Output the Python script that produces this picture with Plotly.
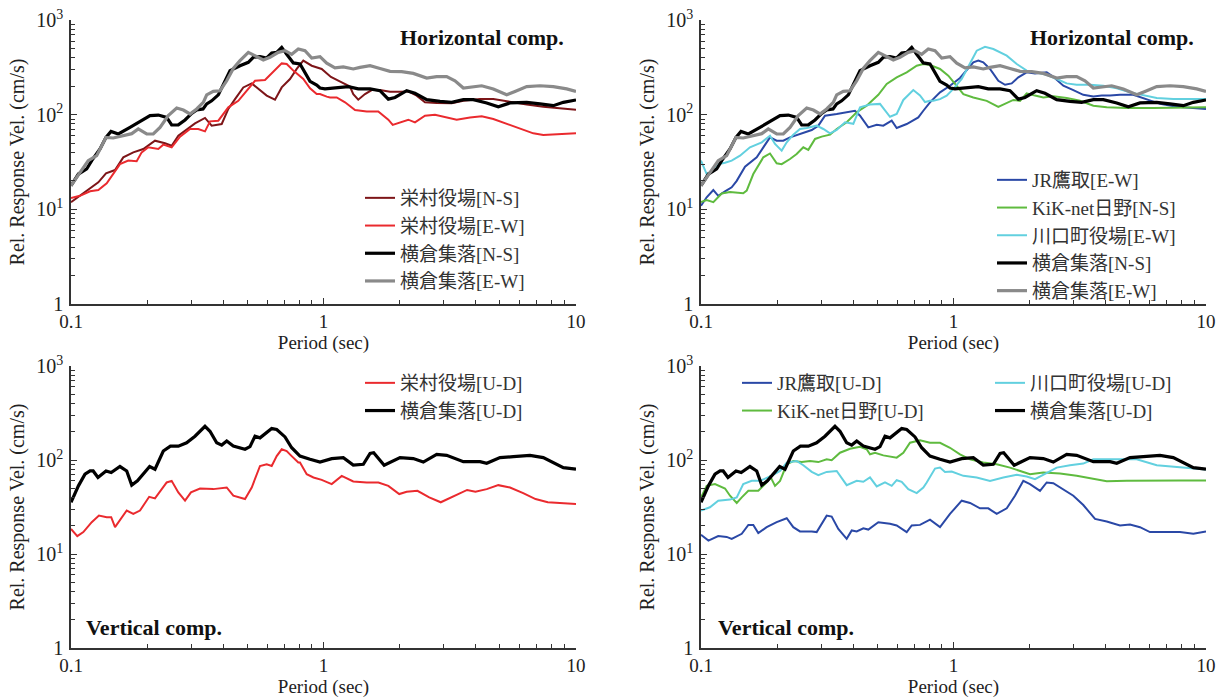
import plotly.graph_objects as go

# ---------------- data: relative response velocity spectra (cm/s) ----------------
# Horizontal components
sakae_ns_T = [0.100, 0.1085, 0.117, 0.1283, 0.1376, 0.1494, 0.1611, 0.1765, 0.1933, 0.2151, 0.2357, 0.2504,
              0.2661, 0.2829, 0.3098, 0.3394, 0.3607, 0.3953, 0.4198, 0.4462, 0.4813, 0.5197, 0.5519, 0.5957,
              0.6426, 0.6831, 0.7368, 0.7833, 0.8318, 0.8982, 0.9837, 1.07, 1.181, 1.273, 1.312, 1.373, 1.46,
              1.552, 1.674, 1.834, 2.009, 2.167, 2.339, 2.523, 2.807, 3.219, 3.58, 4.168, 4.705, 5.315, 6.38,
              7.42, 8.64, 10.0]
sakae_ns_V = [11.9, 13.9, 16.0, 19.3, 24.0, 26.0, 35.4, 40.0, 43.4, 53.1, 49.8, 47.0,
              60.0, 67.8, 81.0, 92.3, 76.5, 79.7, 115, 146, 194, 214, 187, 159,
              144, 194, 238, 304, 372, 329, 304, 250, 219, 198, 165, 144, 165,
              182, 182, 175, 175, 176, 159, 135, 133, 132, 140, 146, 146, 138, 128,
              121, 116.6, 113]

sakae_ew_T = [0.100, 0.1085, 0.119, 0.1283, 0.1385, 0.147, 0.1563, 0.1686, 0.182, 0.1905, 0.2024, 0.2217,
              0.232, 0.2504, 0.2703, 0.2961, 0.3192, 0.3394, 0.3552, 0.3832, 0.4198, 0.4599, 0.4965, 0.5355,
              0.5866, 0.6426, 0.6831, 0.715, 0.7594, 0.8318, 0.8843, 0.9397, 0.9685, 1.0297, 1.061, 1.128,
              1.217, 1.333, 1.483, 1.648, 1.806, 1.880, 2.009, 2.167, 2.303, 2.523, 2.764, 3.075, 3.369,
              3.804, 4.232, 4.705, 5.315, 6.0, 6.776, 7.42, 8.64, 10.0]
sakae_ew_V = [13.2, 13.9, 15.5, 16.0, 18.8, 23.6, 30.0, 32.7, 32.2, 40.0, 45.2, 43.4,
              48.2, 45.2, 58.6, 70.6, 70.6, 66.6, 85.0, 86.4, 119.5, 140, 179, 228,
              232, 292, 348, 343, 292, 238, 190, 165, 165, 155, 152, 152,
              135, 112, 108, 108, 88.5, 78, 83, 88.5, 83, 97.6, 100, 93.5, 88.5,
              93.5, 96, 90, 80, 70.6, 63.5, 61, 62.5, 63.5]

yoko_ns_T = [0.100, 0.107, 0.1154, 0.1208, 0.1303, 0.1376, 0.144, 0.154, 0.1713, 0.1876, 0.2056, 0.2217,
             0.2393, 0.2504, 0.2661, 0.2829, 0.3006, 0.3146, 0.3333, 0.3447, 0.3607, 0.3832, 0.4011, 0.4264,
             0.467, 0.5038, 0.5272, 0.5604, 0.5957, 0.6236, 0.6526, 0.6831, 0.715, 0.7594, 0.807, 0.8448,
             0.8843, 0.94, 0.9685, 1.0137, 1.128, 1.254, 1.373, 1.529, 1.674, 1.806, 1.919, 2.135, 2.303,
             2.563, 2.893, 3.219, 3.58, 3.921, 4.43, 4.924, 5.478, 6.38, 7.2, 8.13, 8.91, 10.0]
yoko_ns_V = [17.8, 23.6, 26.7, 32.7, 43.4, 57.6, 66.6, 62.5, 73.4, 85, 97.6, 99,
             93.5, 77.8, 78, 88, 103, 112, 115, 130, 140, 162, 211, 292,
             329, 357, 404, 410, 397, 449, 455, 514, 434, 352, 343, 280,
             225, 205, 191, 187, 191, 198, 187, 187, 179, 146, 152, 179, 168,
             144, 138, 135, 144, 144, 133, 121, 133, 135, 130, 124.5, 135, 143]

yoko_ew_T = [0.100, 0.1085, 0.117, 0.1264, 0.1376, 0.147, 0.1588, 0.174, 0.1847, 0.1994, 0.2118, 0.2252,
             0.2428, 0.2622, 0.2786, 0.2961, 0.3146, 0.3342, 0.3447, 0.3661, 0.3892, 0.4137, 0.4394, 0.467,
             0.5038, 0.5355, 0.5776, 0.614, 0.6622, 0.704, 0.7482, 0.7948, 0.8448, 0.8982, 0.9685, 1.03,
             1.110, 1.198, 1.312, 1.395, 1.529, 1.674, 1.834, 2.04, 2.268, 2.563, 2.807, 3.075, 3.317, 3.58,
             3.921, 4.232, 4.705, 5.315, 5.733, 6.38, 7.2, 8.13, 9.19, 10.0]
yoko_ew_V = [17.8, 24.6, 32.7, 36.9, 57.6, 56.7, 60, 63, 70.6, 62.5, 62.5, 73.4,
             97.6, 117.7, 112, 101.7, 115, 135, 162, 176, 179, 228, 308, 372,
             455, 420, 378, 404, 455, 474, 434, 494, 474, 397, 410, 350,
             312, 320, 304, 316, 329, 308, 287, 285, 273, 244, 252, 252, 228, 191,
             198, 202, 187, 162, 176, 198, 202, 198, 187, 176]

jr_ew_T = [0.100, 0.1053, 0.1119, 0.117, 0.1245, 0.1323, 0.1385, 0.1494, 0.1662, 0.1765, 0.1876, 0.1994,
           0.2118, 0.2252, 0.2466, 0.2745, 0.2915, 0.3098, 0.3447, 0.3776, 0.4073, 0.4264, 0.4599, 0.4965,
           0.5272, 0.5692, 0.5957, 0.6526, 0.693, 0.7255, 0.7594, 0.807, 0.8843, 0.9685, 1.061, 1.128,
           1.198, 1.254, 1.312, 1.395, 1.505, 1.600, 1.700, 1.806, 1.949, 2.103, 2.339, 2.485, 2.722,
           2.983, 3.266, 3.58, 3.864, 4.168, 4.564, 5.153, 5.823, 6.574, 7.656, 8.91, 10.0]
jr_ew_V = [10.9, 13.4, 16.0, 13.9, 15.5, 17.1, 20.0, 28.2, 35.4, 45.2, 57.6, 53.1,
           53.1, 57.6, 62.5, 68.9, 76.5, 97.6, 101.7, 105.8, 110, 97.6, 73.4, 78,
           76.5, 86.4, 72.3, 79.7, 88, 93.5, 110, 135, 172, 202, 244, 292,
           357, 372, 357, 304, 228, 207, 214, 248, 280, 273, 280, 252, 202,
           182, 162, 156, 159, 159, 162, 162, 146, 130, 121, 117.7, 115]

kik_ns_T = [0.100, 0.1053, 0.1119, 0.1208, 0.1303, 0.1385, 0.147, 0.1517, 0.1611, 0.1765, 0.1876, 0.1994,
            0.2087, 0.2252, 0.2393, 0.2542, 0.2661, 0.2829, 0.3006, 0.3243, 0.3447, 0.3776, 0.4137, 0.4531,
            0.5038, 0.5438, 0.5957, 0.6526, 0.715, 0.7594, 0.807, 0.8843, 0.9537, 1.0297, 1.094, 1.198,
            1.354, 1.505, 1.600, 1.725, 1.834, 1.949, 2.103, 2.268, 2.485, 2.807, 3.170, 3.58, 4.045,
            4.853, 6.18, 7.89, 10.0]
kik_ns_V = [11.9, 12.5, 11.9, 14.7, 15.2, 15.0, 14.8, 15.8, 23.6, 35.4, 38.9, 30.6,
            30.0, 34.0, 38.4, 45.2, 42.5, 55.4, 58.6, 61.5, 70.6, 83, 106, 124.5,
            162, 211, 248, 280, 329, 342, 335, 304, 258, 202, 165, 152,
            140, 121, 130, 143, 140, 168, 159, 152, 156, 150, 140, 124.5, 119.5,
            117.7, 117.7, 119.5, 119.5]

kawa_ew_T = [0.100, 0.1053, 0.1119, 0.117, 0.1245, 0.1323, 0.1427, 0.1563, 0.174, 0.1876, 0.1964, 0.2087,
             0.2185, 0.232, 0.2466, 0.2622, 0.2872, 0.3051, 0.3243, 0.3447, 0.3719, 0.4011, 0.4264, 0.467,
             0.5115, 0.5604, 0.5957, 0.6328, 0.693, 0.7368, 0.7713, 0.807, 0.8318, 0.8843, 0.9397, 0.9985,
             1.0777, 1.163, 1.236, 1.333, 1.438, 1.625, 1.780, 1.949, 2.135, 2.339, 2.563, 2.807, 3.075,
             3.472, 3.921, 4.43, 5.0, 5.646, 6.38, 7.42, 8.91, 10.0]
kawa_ew_V = [32.7, 23.6, 25.2, 30.0, 31.0, 32.7, 36.9, 45.2, 51.0, 60.0, 49.0, 41.7,
             51.0, 61.5, 70.6, 72.3, 76.5, 70.6, 63.5, 68.9, 83, 80, 119.5, 128,
             130, 95, 101.7, 143, 182, 160, 136, 140, 140, 146, 159, 187,
             238, 343, 474, 520, 494, 420, 343, 292, 280, 264, 238, 214, 207,
             207, 202, 190, 172, 162, 150, 146, 146, 146]

# Vertical components
sakae_ud_T = [0.100, 0.1059, 0.1119, 0.1208, 0.1290, 0.1385, 0.1443, 0.1494, 0.1662, 0.1765, 0.1876, 0.2040,
              0.2151, 0.2287, 0.2393, 0.2504, 0.2661, 0.2829, 0.2986, 0.3243, 0.3661, 0.4137, 0.4394, 0.4889,
              0.5197, 0.5604, 0.5957, 0.6236, 0.6526, 0.6831, 0.715, 0.7482, 0.7948, 0.807, 0.858, 0.9125,
              0.9837, 1.0777, 1.181, 1.312, 1.483, 1.650, 1.806, 1.995, 2.135, 2.356, 2.623, 2.913, 3.303,
              3.705, 3.997, 4.43, 4.924, 5.478, 6.178, 6.915, 7.73, 8.91, 10.0]
sakae_ud_V = [18.5, 15.5, 17.1, 21.8, 25.6, 24.6, 24.6, 19.3, 29.0, 26.7, 29.0, 40.6,
              39.0, 49.0, 57.7, 60.0, 45.2, 36.9, 45.2, 49.8, 49.0, 51.0, 41.7, 38.4,
              51.0, 86.4, 90.0, 86.4, 110, 130, 124.5, 110, 93.9, 93.9, 70.6, 65.2,
              61.5, 55.4, 67.8, 59.2, 57.7, 57.7, 53.1, 43.4, 45.9, 47.0, 40.1, 35.5, 41.7,
              48.0, 45.9, 49.0, 54.0, 51.0, 44.5, 38.4, 35.5, 34.6, 34.1]

yoko_ud_T = [0.100, 0.107, 0.1136, 0.119, 0.1224, 0.1279, 0.1376, 0.1443, 0.1563, 0.1662, 0.1740, 0.1833,
             0.2049, 0.2151, 0.232, 0.2476, 0.2661, 0.2870, 0.3098, 0.3394, 0.3552, 0.3776, 0.3953, 0.4137,
             0.4394, 0.4599, 0.4889, 0.5115, 0.5355, 0.5604, 0.5957, 0.6236, 0.6526, 0.704, 0.7482, 0.807,
             0.8843, 0.9685, 1.0777, 1.198, 1.312, 1.438, 1.529, 1.58, 1.739, 2.009, 2.268, 2.485, 2.807,
             3.075, 3.58, 4.168, 4.43, 5.0, 5.646, 6.574, 7.42, 8.91, 10.0]
yoko_ud_V = [35.5, 53.1, 70.6, 76.5, 76.5, 65.2, 76.5, 73.6, 85.2, 76.5, 54.0, 60.0,
             85.2, 79.8, 124.5, 140.5, 140.5, 152.6, 179, 228, 202, 152.6, 144, 159,
             140.5, 135, 130, 138.5, 179, 172, 195, 216, 211, 176, 135, 110,
             101.7, 95, 103.5, 106, 88.5, 90, 117.7, 119.5, 87.9, 106, 103.5, 95, 115,
             112, 96, 96, 92.3, 106, 108.6, 112, 106, 83, 79.8]

jr_ud_T = [0.100, 0.107, 0.117, 0.1264, 0.1323, 0.145, 0.154, 0.1611, 0.1686, 0.182, 0.1994, 0.2185,
           0.232, 0.2466, 0.2745, 0.2872, 0.3146, 0.3293, 0.3498, 0.3776, 0.3953, 0.4137, 0.4394, 0.4599,
           0.5038, 0.5604, 0.5957, 0.6526, 0.6831, 0.7368, 0.807, 0.8843, 0.9685, 1.0777, 1.163, 1.273,
           1.373, 1.483, 1.625, 1.752, 1.890, 2.009, 2.201, 2.339, 2.485, 2.722, 2.983, 3.266, 3.635,
           4.045, 4.564, 5.0, 5.478, 6.0, 6.99, 7.89, 8.91, 10.0]
jr_ud_V = [16.0, 13.9, 15.5, 15.2, 14.5, 16.4, 20.4, 20.4, 16.7, 19.3, 21.8, 24.0,
           19.3, 17.4, 17.4, 17.1, 25.6, 25.0, 18.5, 14.5, 17.8, 17.4, 18.8, 18.2,
           21.8, 21.0, 20.1, 17.1, 20.1, 20.4, 23.2, 19.3, 26.7, 36.9, 34.9, 30.6,
           30.6, 26.7, 30.6, 41.7, 60.0, 55.4, 47.0, 57.7, 56.7, 49.0, 41.7, 33.2, 23.6,
           22.2, 20.1, 20.6, 19.3, 17.1, 17.1, 17.1, 16.4, 17.4]

kik_ud_T = [0.100, 0.1053, 0.1136, 0.1245, 0.1303, 0.1385, 0.145, 0.154, 0.1686, 0.182, 0.1876, 0.1964,
            0.2056, 0.2185, 0.232, 0.2504, 0.2703, 0.2915, 0.3146, 0.3293, 0.3552, 0.3892, 0.4264, 0.4531,
            0.467, 0.4889, 0.5272, 0.5957, 0.6328, 0.6726, 0.7368, 0.807, 0.8843, 0.9685, 1.061, 1.163,
            1.312, 1.483, 1.674, 1.834, 2.009, 2.268, 2.642, 3.075, 3.58, 4.045, 4.853, 6.18, 7.89, 10.0]
kik_ud_V = [40.0, 53.1, 55.4, 49.8, 41.7, 34.9, 40.0, 47.0, 47.0, 57.7, 67.8, 53.1,
            60.0, 90.0, 97.6, 95.0, 97.6, 95.0, 101.7, 99.3, 119.5, 131.9, 138.5, 130,
            115, 119.5, 112, 106, 119.5, 152.6, 162, 152.6, 152.6, 135, 115, 101.7,
            93.9, 90.0, 83.0, 76.5, 70.6, 73.6, 71.8, 67.8, 62.5, 59.6, 60.0, 60.6, 60.6, 60.6]

kawa_ud_T = [0.100, 0.1085, 0.117, 0.1303, 0.1385, 0.147, 0.1588, 0.1713, 0.1876, 0.2056, 0.2185, 0.2393,
             0.2542, 0.2745, 0.2915, 0.3146, 0.3447, 0.3776, 0.4137, 0.4394, 0.467, 0.4965, 0.5355, 0.5692,
             0.5957, 0.6236, 0.6622, 0.715, 0.7594, 0.7833, 0.8448, 0.8843, 0.9253, 0.9837, 1.094, 1.236,
             1.395, 1.575, 1.780, 1.949, 2.103, 2.339, 2.563, 2.893, 3.266, 3.58, 4.045, 4.564, 5.315,
             6.38, 7.89, 10.0]
kawa_ud_V = [29.0, 31.4, 36.9, 37.9, 40.0, 55.4, 60.0, 60.0, 66.7, 76.5, 93.9, 97.6,
             87.9, 74.7, 69.0, 74.7, 76.5, 54.0, 60.0, 58.6, 65.2, 52.3, 57.7, 53.1,
             61.0, 58.6, 49.0, 44.5, 51.0, 57.7, 81.0, 83.0, 74.7, 75.4, 67.8, 65.2,
             60.0, 65.2, 69.5, 66.7, 62.5, 73.6, 83.0, 87.9, 91.6, 101.7, 101.7, 103.5, 101.7,
             87.9, 83.0, 79.2]

# ---------------- styling ----------------
FONT = "Liberation Serif, Times New Roman, Noto Sans CJK JP, serif"
LEG_FONT = "Liberation Serif, Noto Sans CJK JP, serif"
AX = "#333333"
TXT = "#222222"

C_DARKRED = "#7d1518"
C_RED = "#ea2a2e"
C_BLACK = "#000000"
C_GRAY = "#8a8a8a"
C_BLUE = "#2a48a6"
C_GREEN = "#5fbb3f"
C_CYAN = "#62d0df"

W_THIN = 2.0
W_THICK = 3.2

W, H = 1226, 698


def px_x(p):
    return p / W


def px_y(p):
    return (H - p) / H


fig = go.Figure()


def add(xs, ys, name, color, width, xa, ya, legend):
    fig.add_trace(go.Scatter(
        x=xs, y=ys, name=name, mode="lines",
        line=dict(color=color, width=width),
        xaxis=xa, yaxis=ya, legend=legend,
    ))


# top-left: horizontal, Sakae / Yokokura
add(sakae_ns_T, sakae_ns_V, "栄村役場[N-S]", C_DARKRED, W_THIN, "x", "y", "legend")
add(sakae_ew_T, sakae_ew_V, "栄村役場[E-W]", C_RED, W_THIN, "x", "y", "legend")
add(yoko_ns_T, yoko_ns_V, "横倉集落[N-S]", C_BLACK, W_THICK, "x", "y", "legend")
add(yoko_ew_T, yoko_ew_V, "横倉集落[E-W]", C_GRAY, W_THICK, "x", "y", "legend")

# top-right: horizontal, other stations
add(jr_ew_T, jr_ew_V, "JR鷹取[E-W]", C_BLUE, W_THIN, "x2", "y2", "legend2")
add(kik_ns_T, kik_ns_V, "KiK-net日野[N-S]", C_GREEN, W_THIN, "x2", "y2", "legend2")
add(kawa_ew_T, kawa_ew_V, "川口町役場[E-W]", C_CYAN, W_THIN, "x2", "y2", "legend2")
add(yoko_ns_T, yoko_ns_V, "横倉集落[N-S]", C_BLACK, W_THICK, "x2", "y2", "legend2")
add(yoko_ew_T, yoko_ew_V, "横倉集落[E-W]", C_GRAY, W_THICK, "x2", "y2", "legend2")

# bottom-left: vertical
add(sakae_ud_T, sakae_ud_V, "栄村役場[U-D]", C_RED, W_THIN, "x3", "y3", "legend3")
add(yoko_ud_T, yoko_ud_V, "横倉集落[U-D]", C_BLACK, W_THICK, "x3", "y3", "legend3")

# bottom-right: vertical
add(jr_ud_T, jr_ud_V, "JR鷹取[U-D]", C_BLUE, W_THIN, "x4", "y4", "legend4")
add(kik_ud_T, kik_ud_V, "KiK-net日野[U-D]", C_GREEN, W_THIN, "x4", "y4", "legend4")
add(kawa_ud_T, kawa_ud_V, "川口町役場[U-D]", C_CYAN, W_THIN, "x4", "y4", "legend5")
add(yoko_ud_T, yoko_ud_V, "横倉集落[U-D]", C_BLACK, W_THICK, "x4", "y4", "legend5")

minor_x = [m * d for d in (0.1, 1) for m in range(2, 10)]
minor_y = [m * d for d in (1, 10, 100) for m in range(2, 10)]


def xaxis(domain, anchor):
    return dict(
        type="log", range=[-1, 1], domain=domain, anchor=anchor,
        showgrid=False, zeroline=False, showline=True, linecolor=AX, linewidth=1.5,
        ticks="inside", ticklen=6, tickwidth=1.3, tickcolor=AX,
        tickmode="array", tickvals=[0.1, 1, 10], ticktext=["0.1", "1", "10"],
        ticklabelstandoff=-1,
        minor=dict(ticks="inside", ticklen=4, tickwidth=1, tickcolor=AX,
                   tickmode="array", tickvals=minor_x, showgrid=False),
        tickfont=dict(family=FONT, size=19, color=TXT),
        title=dict(text="Period (sec)", font=dict(family=FONT, size=19, color=TXT), standoff=4),
        automargin=False,
    )


def yaxis(domain, anchor):
    return dict(
        type="log", range=[0, 3], domain=domain, anchor=anchor,
        showgrid=False, zeroline=False, showline=True, linecolor=AX, linewidth=1.5,
        ticks="inside", ticklen=6, tickwidth=1.3, tickcolor=AX,
        tickmode="array", tickvals=[1, 10, 100, 1000],
        ticktext=["1", "10<sup>1</sup>", "10<sup>2</sup>", "10<sup>3</sup>"],
        ticklabelstandoff=2,
        minor=dict(ticks="inside", ticklen=4, tickwidth=1, tickcolor=AX,
                   tickmode="array", tickvals=minor_y, showgrid=False),
        tickfont=dict(family=FONT, size=20, color=TXT),
        title=dict(text="Rel. Response Vel. (cm/s)", font=dict(family=FONT, size=20, color=TXT),
                   standoff=6),
        automargin=False,
    )


XL = [px_x(71), px_x(576)]
XR = [px_x(701), px_x(1206)]
YT = [px_y(304), px_y(20)]
YB = [px_y(648), px_y(366)]


def legend_at(x_px, y_px):
    return dict(
        x=px_x(x_px), y=px_y(y_px), xanchor="left", yanchor="top",
        bgcolor="rgba(0,0,0,0)", borderwidth=0, traceorder="normal",
        font=dict(family=LEG_FONT, size=19, color="#333333"),
        itemwidth=30, tracegroupgap=0,
    )


fig.update_layout(
    width=W, height=H,
    margin=dict(l=0, r=0, t=0, b=0),
    paper_bgcolor="white", plot_bgcolor="white",
    font=dict(family=FONT, color=TXT),
    xaxis=xaxis(XL, "y"), yaxis=yaxis(YT, "x"),
    xaxis2=xaxis(XR, "y2"), yaxis2=yaxis(YT, "x2"),
    xaxis3=xaxis(XL, "y3"), yaxis3=yaxis(YB, "x3"),
    xaxis4=xaxis(XR, "y4"), yaxis4=yaxis(YB, "x4"),
    legend=legend_at(360, 179),
    legend2=legend_at(992, 161),
    legend3=legend_at(360, 364),
    legend4=legend_at(737, 364),
    legend5=legend_at(990, 364),
    showlegend=True,
    annotations=[
        dict(text="<b>Horizontal comp.</b>", xref="paper", yref="paper",
             x=px_x(566), y=px_y(37), xanchor="right", yanchor="middle", showarrow=False,
             font=dict(family=FONT, size=22, color="#111")),
        dict(text="<b>Horizontal comp.</b>", xref="paper", yref="paper",
             x=px_x(1196), y=px_y(37), xanchor="right", yanchor="middle", showarrow=False,
             font=dict(family=FONT, size=22, color="#111")),
        dict(text="<b>Vertical comp.</b>", xref="paper", yref="paper",
             x=px_x(84), y=px_y(627), xanchor="left", yanchor="middle", showarrow=False,
             font=dict(family=FONT, size=22, color="#111")),
        dict(text="<b>Vertical comp.</b>", xref="paper", yref="paper",
             x=px_x(716), y=px_y(627), xanchor="left", yanchor="middle", showarrow=False,
             font=dict(family=FONT, size=22, color="#111")),
    ],
)

fig.write_html("out.html")
